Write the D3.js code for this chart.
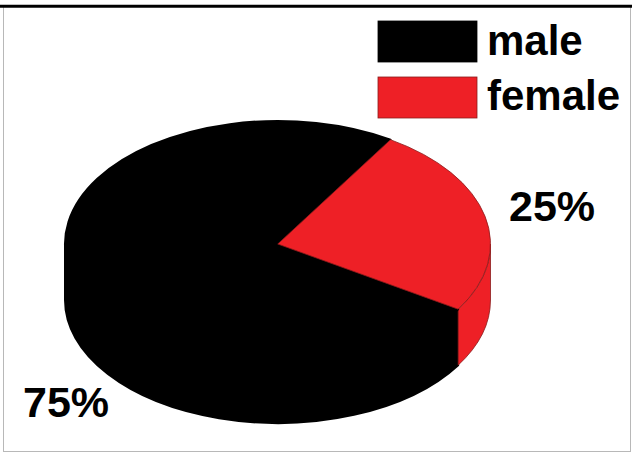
<!DOCTYPE html>
<html>
<head>
<meta charset="utf-8">
<script src="https://cdn.jsdelivr.net/npm/d3@7"></script>
<style>
  html, body { margin: 0; padding: 0; background: #fff; }
  svg { display: block; }
  text { font-family: "Liberation Sans", Arial, sans-serif; font-weight: bold; }
</style>
</head>
<body>
<svg id="chart" width="632" height="453"></svg>
<script>
// Data
const categories = ["male", "female"];
const values = [75, 25];
const labels = ["75%", "25%"];
const colors = ["#000000", "#ee2026"];
const strokes = ["#000000", "#8a1c1c"];
const strokeW = [2, 0.8];

const W = 632, H = 453;
const svg = d3.select("#chart");

// frame
svg.append("rect").attr("x", 3.5).attr("y", 6.5).attr("width", 627).attr("height", 445)
  .attr("fill", "#fff").attr("stroke", "#b8b8b8").attr("stroke-width", 1);
svg.append("line").attr("x1", 0).attr("x2", W).attr("y1", 6.3).attr("y2", 6.3)
  .attr("stroke", "#000").attr("stroke-width", 3);

// 3D pie geometry
const cx = 277.75, cy = 244, rx = 212.75, ry = 123, depth = 56;
const startDeg = 122;
const pie = d3.pie().sort(null).value(d => d)
  .startAngle(startDeg * Math.PI / 180)
  .endAngle((startDeg + 360) * Math.PI / 180);
const arcs = pie(values);

const pt = (a, dy = 0) => [cx + rx * Math.sin(a), cy + dy - ry * Math.cos(a)];

function topPath(a0, a1) {
  const p0 = pt(a0), p1 = pt(a1);
  const large = (a1 - a0) > Math.PI ? 1 : 0;
  return `M${cx},${cy}L${p0[0]},${p0[1]}A${rx},${ry} 0 ${large} 1 ${p1[0]},${p1[1]}Z`;
}
function sidePath(a0, a1) {
  const p0 = pt(a0), p1 = pt(a1), q1 = pt(a1, depth), q0 = pt(a0, depth);
  return `M${p0[0]},${p0[1]}A${rx},${ry} 0 0 1 ${p1[0]},${p1[1]}` +
         `L${q1[0]},${q1[1]}A${rx},${ry} 0 0 0 ${q0[0]},${q0[1]}Z`;
}
// front visible range: angles in [PI/2, 3PI/2] mod 2PI
function frontParts(a0, a1) {
  const parts = [];
  const TAU = 2 * Math.PI;
  for (let k = -1; k <= 2; k++) {
    const f0 = Math.PI / 2 + k * TAU, f1 = 3 * Math.PI / 2 + k * TAU;
    const s = Math.max(a0, f0), e = Math.min(a1, f1);
    if (e > s) parts.push([s, e]);
  }
  return parts;
}

const gSide = svg.append("g");
const gTop = svg.append("g");
arcs.forEach((d, i) => {
  frontParts(d.startAngle, d.endAngle).forEach(([s, e]) => {
    gSide.append("path").attr("d", sidePath(s, e))
      .attr("fill", colors[i]).attr("stroke", strokes[i]).attr("stroke-width", strokeW[i])
      .attr("stroke-linejoin", "round");
  });
  gTop.append("path").attr("d", topPath(d.startAngle, d.endAngle))
    .attr("fill", colors[i]).attr("stroke", strokes[i]).attr("stroke-width", strokeW[i])
    .attr("stroke-linejoin", "round");
});

// percentage labels
const labelPos = [[23, 417], [509, 221]];
labels.forEach((t, i) => {
  svg.append("text").attr("x", labelPos[i][0]).attr("y", labelPos[i][1])
    .attr("font-size", 43).attr("fill", "#000").text(t);
});

// legend
const legend = svg.append("g");
const ly = [21, 77];
const ty = [55, 110];
categories.forEach((c, i) => {
  legend.append("rect").attr("x", 378).attr("y", ly[i]).attr("width", 99).attr("height", 41)
    .attr("fill", colors[i]).attr("stroke", i === 0 ? "#000" : "#8a1c1c").attr("stroke-width", 0.8);
  legend.append("text").attr("x", 487).attr("y", ty[i]).attr("font-size", 42)
    .attr("fill", "#000").text(c);
});
</script>
</body>
</html>
